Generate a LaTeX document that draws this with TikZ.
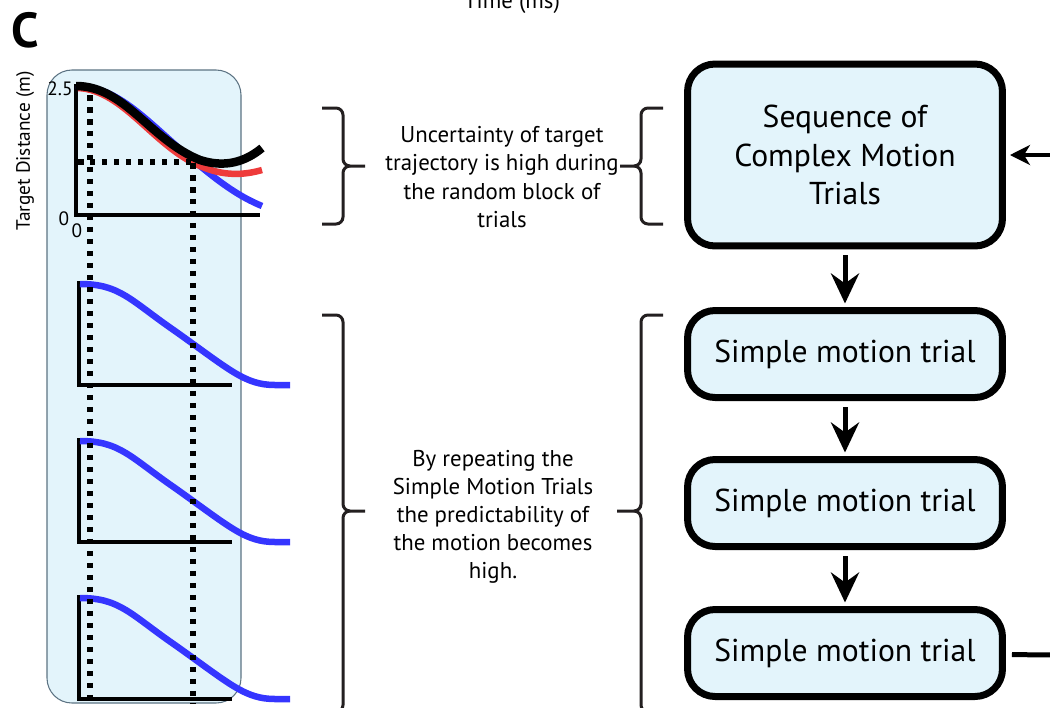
\documentclass[tikz,border=0pt]{standalone}
\usepackage{fontspec}
\setmainfont{PT Sans}
\usetikzlibrary{arrows.meta}
\definecolor{boxblue}{HTML}{E3F4FB}
\definecolor{panelline}{HTML}{5C7383}
\definecolor{curveblue}{HTML}{3535FF}
\definecolor{curvered}{HTML}{EE3B3B}
\definecolor{bracegray}{HTML}{231F20}

\begin{document}
\begin{tikzpicture}[x=0.02cm,y=-0.02cm]
\tikzstyle{trialbox} = [rectangle, rounded corners=0.55cm, fill=boxblue, draw=black, line width=0.14cm, minimum width=6.3cm, minimum height=1.74cm, align=center, font=\fontsize{18}{22}\selectfont]
\tikzstyle{note} = [align=center, font=\fontsize{13}{16}\selectfont]
\tikzstyle{ticklabel} = [inner sep=0pt, font=\fontsize{11}{13}\selectfont]
\tikzstyle{panel} = [rounded corners=0.5cm, fill=boxblue, draw=panelline, line width=0.6pt]
\tikzstyle{axisline} = [line width=0.075cm, black]
\tikzstyle{bluecurve} = [line width=0.13cm, curveblue]
\tikzstyle{guide} = [line width=0.11cm, dash pattern=on 0.11cm off 0.13cm]
\tikzstyle{bracket} = [line width=0.06cm, bracegray]
\tikzstyle{flowarrow} = [line width=0.1cm, -{Stealth[length=0.6cm,width=0.56cm,inset=0.2cm]}]
\tikzstyle{flowline} = [line width=0.1cm]

\useasboundingbox (0,0) rectangle (1050,707);

% panel with the trajectories
\draw[panel] (47,70) rectangle (241,703);
\node (panelC) at (25,30) {\fontsize{28}{30}\selectfont\bfseries C};
\node (ylabel) [rotate=90, font=\fontsize{11}{13}\selectfont] at (25,151) {Target Distance (m)};
\node (xlabel) [anchor=base, note] at (512,8) {Time (ms)};

% random block plot
\draw[axisline] (76,84) -- (76,215) -- (260,215);
\draw[bluecurve] (76,86) .. controls (120,86) and (150,125) .. (193,160) .. controls (220,183) and (240,197) .. (262,206);
\draw[line width=0.13cm, curvered] (78,88) .. controls (125,90) and (155,150) .. (205,168) .. controls (228,177) and (248,174) .. (262,170);
\draw[line width=0.17cm, black] (76,86) .. controls (125,86) and (150,140) .. (200,160) .. controls (225,168) and (245,162) .. (262,148);
\node (ymax) [ticklabel] at (60,89) {2.5};
\node (yzero) [ticklabel] at (64,219) {0};
\node (xzero) [ticklabel] at (77,231) {0};

% simple motion plots
\foreach \dy in {0,157,314}
{
\draw[axisline] (79,281+\dy) -- (79,385+\dy) -- (232,385+\dy);
\draw[bluecurve] (80,284+\dy) .. controls (120,284+\dy) and (130,300+\dy) .. (175,331+\dy) .. controls (230,370+\dy) and (245,385+\dy) .. (275,385+\dy) -- (290,385+\dy);
}

% dotted guides
\draw[guide] (90,95) -- (90,703);
\draw[guide] (193,163) -- (193,703);
\draw[guide] (78,162) -- (193,162);

% braces
\draw[bracket] (322,108) -- (336,108) to[out=0,in=90] (343,115) -- (343,159) to[out=-90,in=180] (350,166) -- (365,166);
\draw[bracket] (350,166) to[out=180,in=90] (343,173) -- (343,217) to[out=-90,in=0] (336,224) -- (322,224);
\draw[bracket] (663,108) -- (648,108) to[out=180,in=90] (641,115) -- (641,159) to[out=-90,in=0] (634,166) -- (620,166);
\draw[bracket] (634,166) to[out=0,in=90] (641,173) -- (641,217) to[out=-90,in=180] (648,224) -- (663,224);
\draw[bracket] (322,315) -- (336,315) to[out=0,in=90] (343,322) -- (343,504) to[out=-90,in=180] (350,511) -- (365,511);
\draw[bracket] (350,511) to[out=180,in=90] (343,518) -- (343,705) to[out=-90,in=0] (336,712) -- (322,712);
\draw[bracket] (663,315) -- (648,315) to[out=180,in=90] (641,322) -- (641,504) to[out=-90,in=0] (634,511) -- (617,511);
\draw[bracket] (634,511) to[out=0,in=90] (641,518) -- (641,705) to[out=-90,in=180] (648,712) -- (663,712);

\node (uncertain) [note] at (502,177) {Uncertainty of target\\trajectory is high during\\the random block of\\trials};
\node (repeat) [note] at (493,517) {By repeating the\\Simple Motion Trials\\the predictability of\\the motion becomes\\high.};

% flow of trials
\node (complex) [trialbox, minimum height=3.64cm] at (845,155) {Sequence of\\Complex Motion\\Trials};
\node (simple1) [trialbox] at (845,354) {Simple motion trial};
\node (simple2) [trialbox] at (845,503) {Simple motion trial};
\node (simple3) [trialbox] at (845,653) {Simple motion trial};

\draw[flowarrow, shorten <=0.12cm, shorten >=0.07cm] (complex) -- (simple1);
\draw[flowarrow, shorten <=0.12cm, shorten >=0.07cm] (simple1) -- (simple2);
\draw[flowarrow, shorten <=0.12cm, shorten >=0.07cm] (simple2) -- (simple3);

\coordinate (loopin) at (1055,155);
\coordinate (loopout) at (1055,655);
\draw[line width=0.08cm, -{Stealth[length=0.4cm,width=0.4cm,inset=0.12cm]}, shorten >=0.08cm] (loopin) -- (complex);
\draw[flowline, shorten <=0.12cm] (simple3) -- (loopout);
\end{tikzpicture}
\end{document}
